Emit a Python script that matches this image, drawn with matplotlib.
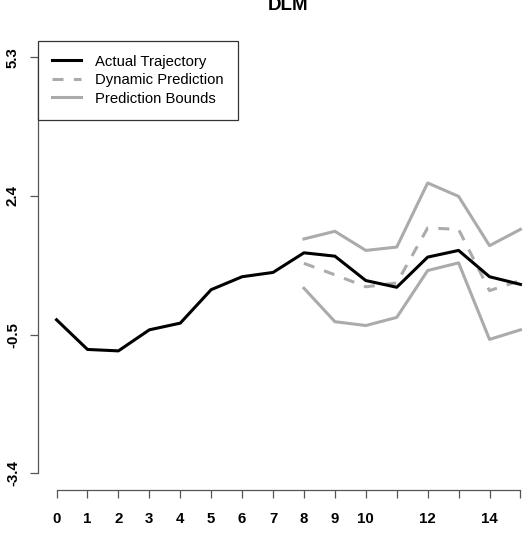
import matplotlib
matplotlib.use("Agg")
import matplotlib.pyplot as plt
import numpy as np

plt.rcParams['font.family'] = ['Liberation Sans', 'DejaVu Sans']

# data
t = np.arange(0, 16)
actual = [-0.19, -0.81, -0.84, -0.40, -0.26, 0.44, 0.71, 0.80,
          1.21, 1.14, 0.63, 0.49, 1.12, 1.26, 0.71, 0.55]
t_pred = np.arange(8, 16)
pred = [0.99, 0.75, 0.50, 0.58, 1.73, 1.70, 0.42, 0.63]
upper = [1.50, 1.66, 1.26, 1.33, 2.67, 2.39, 1.36, 1.70]
lower = [0.47, -0.23, -0.31, -0.14, 0.84, 1.00, -0.60, -0.40]

xticks = list(range(0, 16))
xlabels = ['0', '1', '2', '3', '4', '5', '6', '7', '8', '9', '10', '', '12', '', '14', '']
yticks = [-3.4, -0.5, 2.4, 5.3]
ylabels = ['-3.4', '-0.5', '2.4', '5.3']

W, H = 528, 557
fig = plt.figure(figsize=(W / 100, H / 100), dpi=100)
# plot region (R style), right edge runs past the image like the original
left, right, top, bottom = 38, 539, 40.5, 490
ax = fig.add_axes([left / W, 1 - bottom / H, (right - left) / W, (bottom - top) / H])

grey = '#ababab'
lw = 2.2
ax.plot(t_pred, upper, color=grey, lw=lw, label='Prediction Bounds')
ax.plot(t_pred, lower, color=grey, lw=lw)
dl, = ax.plot(t_pred, pred, color=grey, lw=lw, label='Dynamic Prediction')
dl.set_dashes((3.6, 3.4))
ax.plot(t, actual, color='black', lw=lw, label='Actual Trajectory')

ax.set_xlim(-0.6, 15.6)
ax.set_ylim(-3.4 - 0.348, 5.3 + 0.348)

for s in ['top', 'right']:
    ax.spines[s].set_visible(False)
ax.spines['left'].set_bounds(-3.4, 5.3)
ax.spines['bottom'].set_bounds(0, 15)
for s in ['left', 'bottom']:
    ax.spines[s].set_color('#555555')
    ax.spines[s].set_linewidth(0.9)

ax.set_xticks(xticks)
ax.set_xticklabels(xlabels, fontsize=10.8, fontweight='bold')
ax.set_yticks(yticks)
ax.set_yticklabels(ylabels, fontsize=10.8, fontweight='bold', rotation=90, va='center')
ax.tick_params(axis='x', length=6, width=0.9, color='#555555', pad=9.5)
ax.tick_params(axis='y', length=6, width=0.9, color='#555555', pad=7)

h, l = ax.get_legend_handles_labels()
order = [2, 1, 0]
leg = ax.legend([h[i] for i in order], [l[i] for i in order],
                loc='upper left', bbox_to_anchor=(0, 1), borderaxespad=0,
                fancybox=False, framealpha=1, edgecolor='#333333',
                fontsize=10.7, handlelength=1.95, handletextpad=0.95,
                borderpad=0.95, labelspacing=0.3)
leg.get_frame().set_linewidth(0.9)

fig.text((left + right) / 2 / W, 1 - 10 / H, 'DLM', ha='center', va='baseline',
         fontsize=13.5, fontweight='bold')

fig.savefig('out.png', dpi=100)
